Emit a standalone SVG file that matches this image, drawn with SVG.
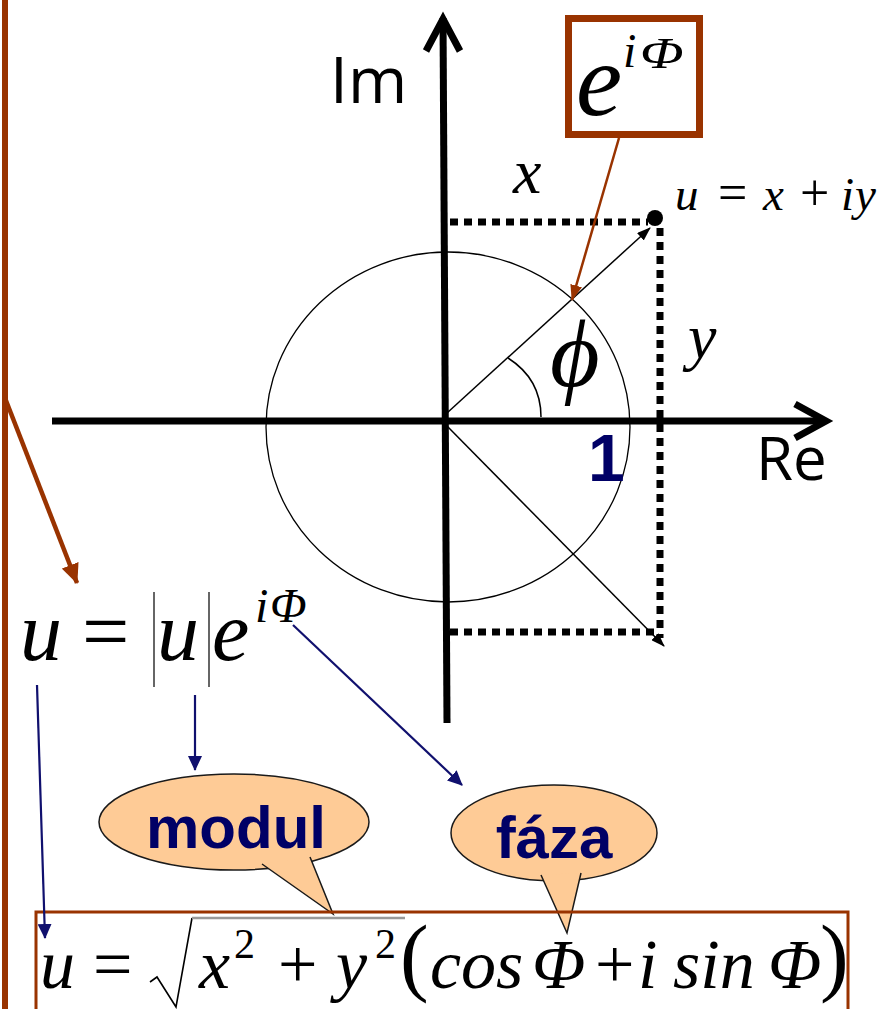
<svg xmlns="http://www.w3.org/2000/svg" width="889" height="1009" viewBox="0 0 889 1009">
<style>
.serif{font-family:"Liberation Serif","Times New Roman","DejaVu Serif",serif;fill:#000;}
.it{font-style:italic;}
.up{font-style:normal;}
.sans{font-family:"Open Sans","Liberation Sans",sans-serif;fill:#000;}
.bold{font-family:"Liberation Sans",Arial,sans-serif;font-weight:bold;fill:#000066;}
.axis{stroke:#000;stroke-width:7;fill:none;}
.dot{stroke:#000;stroke-width:7;stroke-dasharray:8 6;fill:none;}
.thin{stroke:#000;stroke-width:1.5;fill:none;}
.brown{stroke:#993300;fill:none;}
.navy{stroke:#10106E;stroke-width:2.2;fill:none;}
.bubble{fill:#FECB96;stroke:#1a1a1a;stroke-width:1.5;}
.rule{stroke:#333;stroke-width:1.5;fill:none;}
</style>
<defs>
<marker id="ahBlack" viewBox="0 0 14 10" refX="13" refY="5" markerWidth="14" markerHeight="10" orient="auto" markerUnits="userSpaceOnUse"><path d="M0,0 L14,5 L0,10 z" fill="#000"/></marker>
<marker id="ahBrown" viewBox="0 0 16 12" refX="15" refY="6" markerWidth="16" markerHeight="12" orient="auto" markerUnits="userSpaceOnUse"><path d="M0,0 L16,6 L0,12 z" fill="#993300"/></marker>
<marker id="ahBrownBig" viewBox="0 0 20 18" refX="19" refY="9" markerWidth="20" markerHeight="18" orient="auto" markerUnits="userSpaceOnUse"><path d="M0,0 L20,9 L0,18 z" fill="#993300"/></marker>
<marker id="ahNavy" viewBox="0 0 15 14" refX="14" refY="7" markerWidth="15" markerHeight="14" orient="auto" markerUnits="userSpaceOnUse"><path d="M0,0 L15,7 L0,14 z" fill="#10106E"/></marker>
</defs>

<!-- left brown border line -->
<line x1="5" y1="0" x2="5" y2="1009" stroke="#993300" stroke-width="6"/>

<g id="unit-circle">
<ellipse cx="448" cy="427" rx="182" ry="175" fill="none" stroke="#000" stroke-width="1.3"/>
</g>

<g id="axes">
<line class="axis" x1="52" y1="421" x2="826" y2="421"/>
<polyline class="axis" points="795,404 826,421 795,438"/>
<line class="axis" x1="443" y1="18" x2="447" y2="723"/>
<polyline class="axis" points="426,51 443,19 460,51"/>
<text class="sans" x="330" y="103" font-size="64">Im</text>
<text class="sans" x="756" y="480" font-size="60">Re</text>
</g>

<g id="projection">
<line class="dot" x1="450" y1="222" x2="648" y2="222"/>
<line class="dot" x1="660" y1="228" x2="660" y2="638"/>
<line class="dot" x1="450" y1="632" x2="655" y2="632"/>
<circle cx="655" cy="218" r="8" fill="#000"/>
</g>

<g id="vectors">
<line class="thin" x1="447" y1="413" x2="650" y2="228" marker-end="url(#ahBlack)"/>
<line class="thin" x1="447" y1="426" x2="664" y2="646" marker-end="url(#ahBlack)"/>
<path class="thin" d="M541,417 C541,392 530,372 508,358"/>
</g>

<g id="labels">
<text class="serif it" x="513" y="193" font-size="64">x</text>
<text class="serif it" x="688" y="358" font-size="64">y</text>
<text class="serif it" x="550" y="386" font-size="96">ϕ</text>
<text class="bold" x="588" y="481" font-size="66">1</text>
</g>

<g id="node-u-label">
<text class="serif it" y="210" font-size="47"><tspan x="675">u</tspan><tspan class="up" x="718" font-size="52">=</tspan><tspan x="763">x</tspan><tspan class="up" x="800" font-size="52">+</tspan><tspan x="841">i</tspan><tspan x="855">y</tspan></text>
</g>

<g id="node-eiphi">
<rect x="568.5" y="18.5" width="131" height="116" fill="none" stroke="#993300" stroke-width="7"/>
<text class="serif it" x="576" y="115" font-size="104">e</text>
<text class="serif it" x="623" y="67" font-size="48">i</text>
<text class="serif it" font-size="44" transform="translate(640,68) scale(1.3,1)">Φ</text>
</g>

<g id="node-formula1">
<text class="serif it" y="660" font-size="84"><tspan x="20">u</tspan><tspan class="up" x="82">=</tspan><tspan x="157">u</tspan><tspan x="212">e</tspan></text>
<text class="serif it" y="622" font-size="48"><tspan x="255">i</tspan><tspan x="270">Φ</tspan></text>
<line class="rule" x1="154" y1="592" x2="154" y2="687"/>
<line class="rule" x1="209" y1="592" x2="209" y2="687"/>
</g>

<g id="node-modul">
<ellipse class="bubble" cx="234" cy="822" rx="135" ry="48"/>
<path class="bubble" d="M262,864 L333,914 L310,857"/>
<text class="bold" x="236" y="848" font-size="60" text-anchor="middle">modul</text>
</g>

<g id="node-faza">
<ellipse class="bubble" cx="554" cy="833" rx="103" ry="48"/>
<path class="bubble" d="M541,875 L567,933 L581,873"/>
<text class="bold" x="554" y="858" font-size="60" text-anchor="middle">fáza</text>
</g>

<g id="node-formula2">
<rect x="36" y="912" width="812" height="110" fill="none" stroke="#993300" stroke-width="3"/>
<polyline points="150,982 157,977 176,1007 192,918" fill="none" stroke="#000" stroke-width="1.6"/>
<line x1="192" y1="918" x2="405" y2="918" stroke="#999" stroke-width="2.5"/>
<text class="serif it" y="988" font-size="70"><tspan x="40">u</tspan><tspan class="up" x="93">=</tspan><tspan x="199">x</tspan><tspan class="up" x="278">+</tspan><tspan x="336">y</tspan><tspan x="430">cos</tspan><tspan x="532">Φ</tspan><tspan class="up" x="595">+</tspan><tspan x="638">i</tspan><tspan x="673">sin</tspan><tspan x="768">Φ</tspan></text>
<text class="serif up" y="958" font-size="42"><tspan x="234">2</tspan><tspan x="375">2</tspan></text>
<text class="serif up" y="985" font-size="86"><tspan x="400">(</tspan><tspan x="820">)</tspan></text>
</g>

<g id="connectors">
<line class="brown" stroke-width="2.5" x1="619" y1="138" x2="572" y2="300" marker-end="url(#ahBrown)"/>
<line class="brown" stroke-width="4.5" x1="5" y1="398" x2="77" y2="583" marker-end="url(#ahBrownBig)"/>
<line class="navy" x1="37" y1="685" x2="45" y2="938" marker-end="url(#ahNavy)"/>
<line class="navy" x1="195" y1="695" x2="195" y2="770" marker-end="url(#ahNavy)"/>
<line class="navy" x1="293" y1="625" x2="462" y2="785" marker-end="url(#ahNavy)"/>
</g>
</svg>
